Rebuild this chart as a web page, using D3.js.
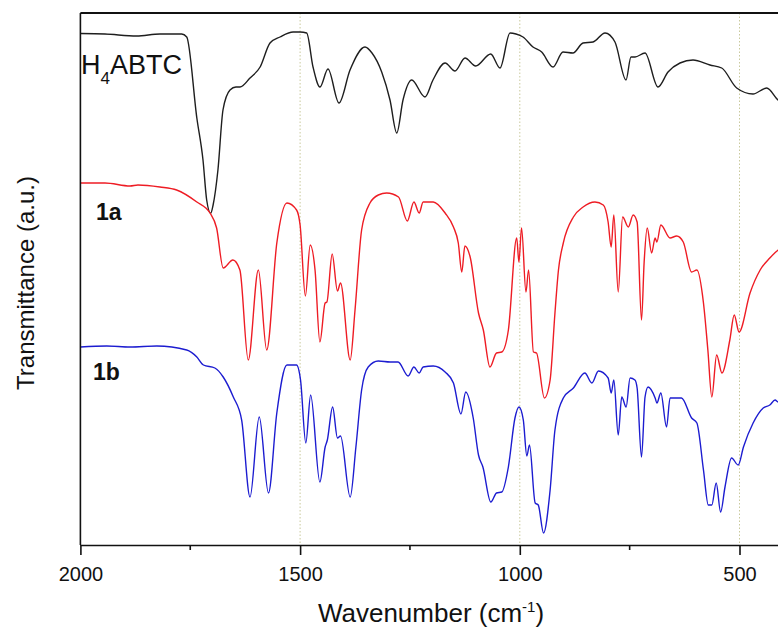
<!DOCTYPE html>
<html>
<head>
<meta charset="utf-8">
<script src="https://cdn.jsdelivr.net/npm/d3@7"></script>
<style>
  body { margin: 0; background: #fff; }
  text { font-family: "Liberation Sans", Arial, sans-serif; }
</style>
</head>
<body>
<svg id="chart" width="778" height="635"></svg>
<script>
// H4ABTC spectrum (wavenumber, transmittance a.u.)
let blackWn = [2000, 1944, 1872, 1819, 1769.5, 1758, 1735, 1721, 1712.6, 1703.5, 1698, 1687, 1675.5, 1659.5, 1646, 1636.8,
  1614, 1591, 1568.5, 1545.8, 1516, 1500.2, 1485, 1470.6, 1454.7, 1436.5, 1411.5, 1386.4, 1352.3, 1336.4, 1314.3, 1295.4,
  1280, 1265.8, 1246, 1215.8, 1197.6, 1170, 1147.5, 1124.7, 1100.4, 1066.2, 1045, 1022.3, 1008.6, 992.7, 970, 950.2,
  924.4, 901.7, 879, 856, 833.4, 806, 783.4, 758.3, 747, 737.8, 715, 685.5, 662.7, 635.4, 605.8, 567.2, 540.5, 506.4,
  469.3, 438.1, 412.4, 400];
let blackT = [511.5, 511, 509, 511, 511, 508, 427, 385, 345, 331.7, 340, 375, 435, 455, 458, 458,
  467, 478, 502, 508, 513, 513, 512, 478, 458, 476, 442, 475, 498, 492, 473, 445,
  412, 445, 465, 448, 465, 482, 474, 487, 479, 491, 477, 512, 511, 508, 498, 493,
  478, 493, 492, 502, 503, 512, 503, 465, 488, 488, 492, 458, 473, 482, 485, 480, 477, 457,
  451, 457, 445, 441];

// 1a spectrum
let redWn = [2000, 1944, 1887, 1869, 1819, 1781, 1735, 1705, 1690, 1675, 1653, 1637, 1618, 1595, 1576, 1553,
  1530, 1508, 1500, 1488, 1477, 1466, 1455, 1443, 1439, 1427, 1415, 1408, 1386, 1375, 1360, 1341,
  1322, 1303, 1276, 1256, 1241, 1229, 1220, 1197, 1170, 1151, 1140, 1132, 1125, 1113, 1094, 1083,
  1068, 1053, 1041, 1026, 1007, 1002, 996, 986, 980, 969, 962, 944, 931, 920, 912, 901,
  878, 856, 829, 810, 799, 792, 786, 776, 766, 753, 742, 733, 723, 717, 710, 700,
  692, 688, 679, 658, 643, 628, 609, 597, 582, 572, 563, 552, 540, 522, 512, 501,
  476, 453, 431, 412, 400];
let redT = [362, 362, 359, 360, 358, 355, 343, 332, 317, 277, 285, 275, 185, 275, 195, 302,
  342, 335, 320, 249, 300, 275, 203, 242, 243, 291, 254, 262, 185, 235, 315, 342,
  350, 352, 348, 324, 343, 332, 343, 343, 332, 318, 302, 273, 299, 288, 232, 215,
  178, 192, 193, 215, 307, 283, 317, 253, 275, 193, 192, 147, 165, 232, 275, 302,
  328, 338, 343, 340, 323, 298, 330, 253, 328, 318, 330, 323, 225, 283, 317, 292,
  307, 303, 320, 307, 309, 303, 273, 275, 242, 195, 148, 190, 172, 205, 230, 213,
  252, 275, 287, 295, 298];

// 1b spectrum
let blueWn = [2000, 1940, 1887, 1826, 1758, 1735, 1720, 1694, 1675, 1652, 1633, 1614, 1593, 1572, 1553, 1530,
  1508, 1499, 1487, 1476, 1455, 1443, 1438, 1426, 1415, 1408, 1386, 1373, 1360, 1345, 1322, 1295,
  1277, 1254, 1241, 1229, 1220, 1197, 1170, 1151, 1134, 1123, 1106, 1094, 1084, 1066, 1053, 1041,
  1026, 1011, 1002, 992, 984, 978, 965, 958, 946, 931, 920, 901, 878, 852, 836, 821,
  799, 792, 786, 776, 768, 758, 749, 738, 733, 723, 715, 708, 692, 688, 679, 666,
  658, 632, 609, 597, 582, 571, 563, 553, 543, 533, 518, 503, 491, 469, 446, 431,
  419, 412, 400];
let blueT = [198, 199, 198, 199, 195, 188, 180, 177, 168, 148, 125, 48, 128, 52, 132, 180,
  180, 165, 102, 150, 63, 98, 105, 138, 107, 109, 48, 98, 155, 178, 184, 183,
  183, 169, 178, 172, 178, 179, 173, 162, 131, 153, 127, 90, 78, 43, 52, 53,
  78, 127, 138, 125, 89, 100, 42, 40, 12, 55, 115, 147, 157, 172, 162, 174,
  167, 152, 165, 110, 148, 138, 167, 165, 157, 88, 148, 158, 147, 142, 152, 118,
  147, 147, 127, 122, 75, 40, 40, 62, 33, 58, 87, 80, 98, 122, 137, 140,
  145, 143, 147];

let seriesNames = ["H4ABTC", "1a", "1b"];
let seriesColors = ["#1e1e1e", "#ee1c24", "#1c1cd0"];
let majorTicks = [2000, 1500, 1000, 500];
let minorTicks = [1750, 1250, 750];
let gridLines = [1500, 1000, 500];

const svg = d3.select("#chart");

// plot box
const plotLeft = 80.4, plotTop = 13, plotBottom = 545;

// scales (wavenumber runs right to left)
let xScale = d3.scaleLinear().domain([2000, 400]).range([plotLeft, plotLeft + 1600 * 0.4394]);
let yScale = d3.scaleLinear().domain([0, 532]).range([plotBottom, plotTop]);

// dotted guide lines
svg.selectAll(".grid")
  .data(gridLines)
  .enter().append("line")
  .attr("class", "grid")
  .attr("x1", d => xScale(d)).attr("x2", d => xScale(d))
  .attr("y1", plotTop).attr("y2", plotBottom)
  .attr("stroke", "#c9c99c")
  .attr("stroke-width", 1)
  .attr("stroke-dasharray", "1.5,2");

// spectra
function buildSeries(wn, t) {
  return wn.map((w, i) => ({ x: w, y: t[i] }));
}
let allSeries = [buildSeries(blackWn, blackT), buildSeries(redWn, redT), buildSeries(blueWn, blueT)];

let line = d3.line()
  .x(d => xScale(d.x))
  .y(d => yScale(d.y))
  .curve(d3.curveMonotoneX);

svg.selectAll(".spectrum")
  .data(allSeries)
  .enter().append("path")
  .attr("class", "spectrum")
  .attr("d", line)
  .attr("fill", "none")
  .attr("stroke", (d, i) => seriesColors[i])
  .attr("stroke-width", 1.4)
  .attr("stroke-linejoin", "round");

// frame: top and left lines
svg.append("line")
  .attr("x1", plotLeft).attr("x2", 778).attr("y1", plotTop).attr("y2", plotTop)
  .attr("stroke", "#111").attr("stroke-width", 2.2);
svg.append("line")
  .attr("x1", plotLeft).attr("x2", plotLeft).attr("y1", plotTop).attr("y2", plotBottom)
  .attr("stroke", "#111").attr("stroke-width", 1.6);

// bottom axis
let bottomAxis = d3.axisBottom(xScale)
  .tickValues(majorTicks)
  .tickFormat(d3.format("d"))
  .tickSize(10)
  .tickPadding(12)
  .tickSizeOuter(0);

let xAxis = svg.append("g")
  .attr("transform", `translate(0,${plotBottom})`)
  .call(bottomAxis);
xAxis.select(".domain").attr("stroke", "#111").attr("stroke-width", 1.6);
xAxis.selectAll(".tick line").attr("stroke", "#111").attr("stroke-width", 1.6);
xAxis.selectAll(".tick text")
  .attr("fill", "#111")
  .style("font-size", "20px")
  .style("font-family", "'Liberation Sans', Arial, sans-serif");

xAxis.selectAll(".minor")
  .data(minorTicks)
  .enter().append("line")
  .attr("class", "minor")
  .attr("x1", d => xScale(d)).attr("x2", d => xScale(d))
  .attr("y1", 0).attr("y2", 5)
  .attr("stroke", "#111").attr("stroke-width", 1.6);

// axis titles
let xTitle = svg.append("text")
  .attr("x", 431).attr("y", 622)
  .attr("text-anchor", "middle")
  .style("font-size", "26px")
  .attr("fill", "#111");
xTitle.append("tspan").text("Wavenumber (cm");
xTitle.append("tspan").text("-1").attr("dy", -10).style("font-size", "15px");
xTitle.append("tspan").text(")").attr("dy", 10);

svg.append("text")
  .attr("transform", "translate(34,283) rotate(-90)")
  .attr("text-anchor", "middle")
  .style("font-size", "24px")
  .attr("fill", "#111")
  .text("Transmittance (a.u.)");

// series labels
let h4 = svg.append("text")
  .attr("x", 81).attr("y", 74)
  .style("font-size", "27px")
  .attr("fill", "#111");
h4.append("tspan").text("H");
h4.append("tspan").text("4").attr("dy", 10).style("font-size", "17px");
h4.append("tspan").text("ABTC").attr("dy", -10);

svg.append("text")
  .attr("x", 96).attr("y", 220)
  .style("font-size", "23px").style("font-weight", "bold")
  .attr("fill", "#111")
  .text(seriesNames[1]);

svg.append("text")
  .attr("x", 93).attr("y", 380)
  .style("font-size", "23px").style("font-weight", "bold")
  .attr("fill", "#111")
  .text(seriesNames[2]);
</script>
</body>
</html>
